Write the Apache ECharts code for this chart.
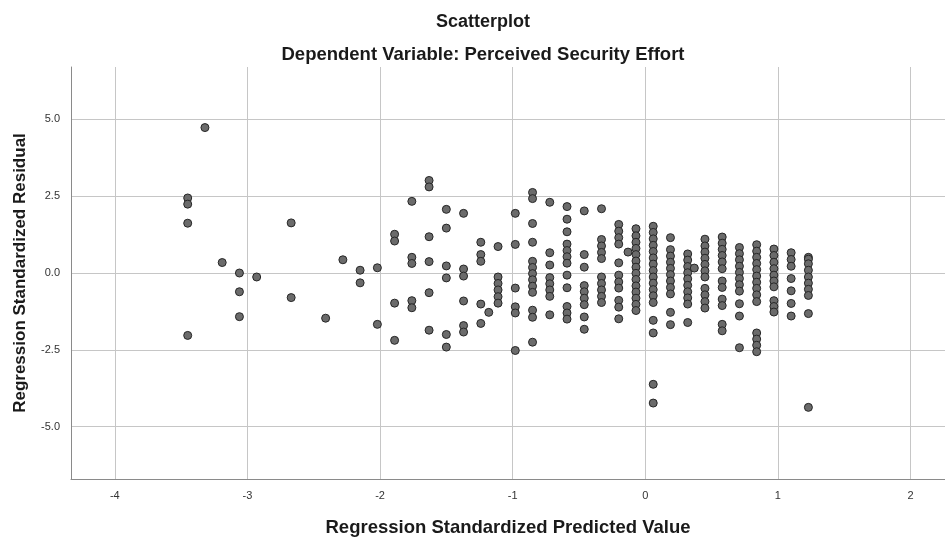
<!DOCTYPE html>
<html>
<head>
<meta charset="utf-8">
<title>Scatterplot</title>
<script src="https://cdn.jsdelivr.net/npm/echarts@6/dist/echarts.min.js"></script>
<style>
html, body { margin: 0; padding: 0; background: #fff; }
#chart { width: 945px; height: 542px; }
</style>
</head>
<body>
<div id="chart"></div>
<script>
// tick labels
const xTicks = [-4, -3, -2, -1, 0, 1, 2];
const yTicks = [-5, -2.5, 0, 2.5, 5];

// predicted values come in columns, residuals listed per column
const predictedCols = [
    -3.45, -3.32, -3.19, -3.06, -2.93, -2.67, -2.41, -2.28, -2.15, -2.02,
    -1.89, -1.76, -1.63, -1.50, -1.37, -1.24, -1.18, -1.11, -0.98, -0.85,
    -0.72, -0.59, -0.46, -0.33, -0.20, -0.13, -0.07, 0.06, 0.19, 0.32,
    0.37, 0.45, 0.58, 0.71, 0.84, 0.97, 1.10, 1.23
];
const residualCols = [
    [2.44, 2.24, 1.62, -2.03],
    [4.73],
    [0.34],
    [0.00, -0.61, -1.42],
    [-0.13],
    [1.63, -0.80],
    [-1.47],
    [0.43],
    [0.09, -0.32],
    [0.17, -1.67],
    [1.26, 1.04, -0.98, -2.19],
    [2.33, 0.51, 0.31, -0.90, -1.13],
    [3.01, 2.80, 1.18, 0.37, -0.64, -1.86],
    [2.07, 1.46, 0.23, -0.16, -2.00, -2.41],
    [1.94, 0.13, -0.10, -0.91, -1.71, -1.92],
    [1.00, 0.60, 0.38, -1.01, -1.64],
    [-1.28],
    [0.86, -0.13, -0.34, -0.55, -0.77, -0.98],
    [1.94, 0.93, -0.49, -1.10, -1.30, -2.52],
    [2.62, 2.42, 1.61, 1.00, 0.38, 0.18, -0.02, -0.22, -0.43, -0.63, -1.21, -1.44, -2.25],
    [2.30, 0.66, 0.26, -0.15, -0.35, -0.55, -0.76, -1.36],
    [2.16, 1.75, 1.34, 0.94, 0.73, 0.53, 0.32, -0.07, -0.48, -1.09, -1.30, -1.50],
    [2.02, 0.60, 0.19, -0.41, -0.61, -0.82, -1.03, -1.43, -1.83],
    [2.09, 1.09, 0.88, 0.67, 0.47, -0.13, -0.34, -0.55, -0.76, -0.96],
    [1.58, 1.36, 1.15, 0.94, 0.33, -0.07, -0.29, -0.49, -0.89, -1.11, -1.49],
    [0.68],
    [1.44, 1.21, 1.00, 0.80, 0.60, 0.39, 0.19, -0.01, -0.21, -0.42, -0.62, -0.82, -1.02, -1.22],
    [1.52, 1.32, 1.11, 0.90, 0.70, 0.49, 0.29, 0.08, -0.13, -0.33, -0.54, -0.74, -0.96, -1.54, -1.95, -3.62, -4.23],
    [1.15, 0.76, 0.55, 0.35, 0.15, -0.05, -0.26, -0.47, -0.68, -1.28, -1.68],
    [0.62, 0.42, 0.21, 0.01, -0.19, -0.40, -0.61, -0.81, -1.01, -1.61],
    [0.16],
    [1.10, 0.88, 0.68, 0.48, 0.28, 0.07, -0.13, -0.50, -0.71, -0.93, -1.14],
    [1.17, 0.97, 0.77, 0.57, 0.36, 0.14, -0.26, -0.47, -0.85, -1.06, -1.67, -1.88],
    [0.83, 0.63, 0.43, 0.22, 0.02, -0.18, -0.38, -0.59, -1.00, -1.40, -2.43],
    [0.92, 0.71, 0.51, 0.31, 0.11, -0.10, -0.30, -0.50, -0.71, -0.93, -1.95, -2.15, -2.35, -2.56],
    [0.78, 0.57, 0.35, 0.14, -0.07, -0.26, -0.45, -0.90, -1.09, -1.27],
    [0.66, 0.44, 0.22, -0.18, -0.58, -0.99, -1.40],
    [0.51, 0.45, 0.30, 0.09, -0.13, -0.33, -0.53, -0.73, -1.32, -4.37]
];

let points = [];
predictedCols.forEach(function (x, i) {
    residualCols[i].forEach(function (y) {
        points.push([x, y]);
    });
});

const font = 'Arial, "Liberation Sans", sans-serif';
const gridColor = '#c6c6c6';
const axisColor = '#8a8a8a';

let chart = echarts.init(document.getElementById('chart'));
var option = {
    backgroundColor: '#fff',
    animation: false,
    title: [
        {
            text: 'Scatterplot',
            left: 478,
            top: 8,
            textAlign: 'center',
            textStyle: { fontFamily: font, fontSize: 18, fontWeight: 'bold', color: '#1a1a1a' }
        },
        {
            text: 'Dependent Variable: Perceived Security Effort',
            left: 478,
            top: 40,
            textAlign: 'center',
            textStyle: { fontFamily: font, fontSize: 18.5, fontWeight: 'bold', color: '#1a1a1a' }
        }
    ],
    grid: {
        left: 71,
        right: 0,
        top: 67,
        bottom: 58
    },
    xAxis: {
        type: 'value',
        min: -4.33,
        max: 2.26,
        name: 'Regression Standardized Predicted Value',
        nameLocation: 'middle',
        nameGap: 39,
        nameTextStyle: { fontFamily: font, fontSize: 18.5, fontWeight: 'bold', color: '#1a1a1a' },
        axisLine: { onZero: false, lineStyle: { color: axisColor, width: 1 } },
        axisTick: { show: false, customValues: xTicks },
        axisLabel: {
            customValues: xTicks,
            margin: 11,
            fontFamily: font,
            fontSize: 11,
            color: '#333'
        },
        splitLine: { show: true, lineStyle: { color: gridColor, width: 1 } }
    },
    yAxis: {
        type: 'value',
        min: -6.7,
        max: 6.7,
        name: 'Regression Standardized Residual',
        nameLocation: 'middle',
        nameGap: 42,
        nameTextStyle: { fontFamily: font, fontSize: 17, fontWeight: 'bold', color: '#1a1a1a' },
        axisLine: { show: true, onZero: false, lineStyle: { color: axisColor, width: 1 } },
        axisTick: { show: false, customValues: yTicks },
        axisLabel: {
            customValues: yTicks,
            margin: 11,
            fontFamily: font,
            fontSize: 11,
            color: '#333',
            formatter: function (v) { return v.toFixed(1); }
        },
        splitLine: { show: true, lineStyle: { color: gridColor, width: 1 } }
    },
    series: [
        {
            type: 'scatter',
            data: points,
            symbol: 'circle',
            symbolSize: 8,
            itemStyle: {
                color: '#6b6b6b',
                borderColor: '#262626',
                borderWidth: 1,
                opacity: 1
            }
        }
    ]
};
chart.setOption(option);
</script>
</body>
</html>
